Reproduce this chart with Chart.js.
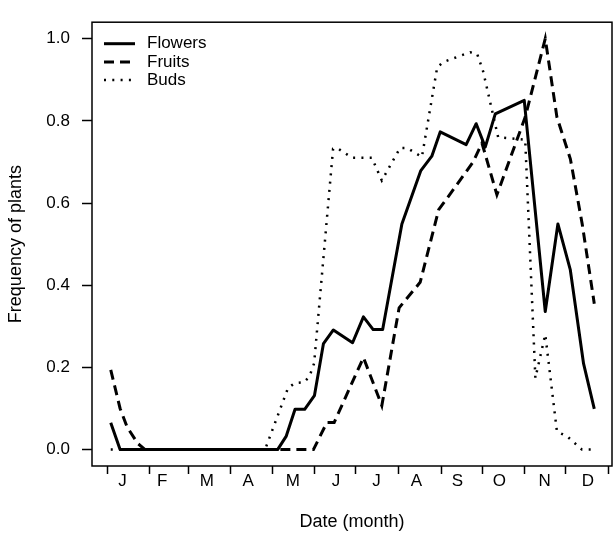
<!DOCTYPE html>
<html>
<head>
<meta charset="utf-8">
<script src="https://cdn.jsdelivr.net/npm/chart.js@4.4.1/dist/chart.umd.min.js"></script>
<style>
  html, body { margin: 0; padding: 0; background: #fff; }
  canvas { display: block; }
</style>
</head>
<body>
<canvas id="phenologyChart" width="613" height="533"></canvas>
<script>
// x = day of year (0 = 1 January), y = frequency of plants
const flowerDays = [2.5, 9.3, 124, 130.2, 136.7, 143.7, 150.8, 157.4, 164.6, 178.6, 186.5, 193.6, 200.5, 214.5, 228.3, 236.3, 242.4, 261.3, 268.6, 275.2, 282.5, 303.6, 318.9, 328.1, 337.1, 346.8, 354.6];
const flowerFreq = [0.065, 0, 0, 0.032, 0.098, 0.098, 0.131, 0.258, 0.291, 0.260, 0.323, 0.292, 0.292, 0.549, 0.679, 0.714, 0.773, 0.742, 0.793, 0.736, 0.817, 0.850, 0.336, 0.549, 0.438, 0.209, 0.099];

const fruitDays = [2.5, 9.3, 14.4, 22.1, 27.5, 150.1, 159.9, 165.2, 186.5, 199.9, 212.5, 227.8, 241.3, 247.5, 266.4, 272.8, 283.7, 304.3, 318.9, 327.4, 337.2, 345.8, 354.6];
const fruitFreq = [0.194, 0.10, 0.055, 0.015, 0, 0, 0.066, 0.066, 0.224, 0.107, 0.345, 0.407, 0.584, 0.612, 0.700, 0.746, 0.620, 0.809, 1.0, 0.809, 0.707, 0.549, 0.355];

const budDays = [2.5, 114.9, 131.6, 136.7, 143.3, 147.2, 150.6, 164.4, 167.3, 178.3, 192.6, 199.9, 213.2, 218.3, 229.1, 240.2, 244.6, 264.2, 269.3, 273.7, 284.6, 304.3, 311.7, 318.9, 327.4, 334.9, 345.6, 354.6];
const budFreq = [0, 0, 0.150, 0.162, 0.164, 0.178, 0.210, 0.732, 0.734, 0.710, 0.710, 0.655, 0.734, 0.734, 0.712, 0.930, 0.943, 0.967, 0.963, 0.920, 0.760, 0.754, 0.174, 0.280, 0.044, 0.032, 0, 0];

// month boundaries (tick marks) and label positions, in days
const monthStart = [0, 31, 59, 90, 120, 151, 181, 212, 243, 273, 304, 334, 365];
const monthLabelDay = [11, 40, 72.5, 102.5, 135, 166.5, 196, 225, 255, 285.5, 318.5, 350];
const monthLabels = ['J', 'F', 'M', 'A', 'M', 'J', 'J', 'A', 'S', 'O', 'N', 'D'];
const yTicks = [0, 0.2, 0.4, 0.6, 0.8, 1.0];

const FONT = '"Liberation Sans", Arial, Helvetica, sans-serif';

const toPoints = (xs, ys) => xs.map((x, i) => ({ x: x, y: ys[i] }));

// box round the plot and a legend in its top-left corner
const frameAndLegend = {
    id: 'frameAndLegend',
    afterDraw(chart) {
        const { ctx, chartArea: a } = chart;
        ctx.save();
        ctx.strokeStyle = '#000';
        ctx.lineWidth = 1.5;
        ctx.strokeRect(a.left, a.top, a.right - a.left, a.bottom - a.top);

        ctx.font = '17px ' + FONT;
        ctx.textBaseline = 'middle';
        ctx.fillStyle = '#000';
        chart.data.datasets.forEach((ds, i) => {
            const y = a.top + 21.5 + i * 18.2;
            ctx.beginPath();
            ctx.setLineDash(ds.borderDash || []);
            ctx.lineWidth = ds.borderWidth;
            ctx.moveTo(a.left + 12, y);
            ctx.lineTo(a.left + 43, y);
            ctx.stroke();
            ctx.setLineDash([]);
            ctx.fillText(ds.label, a.left + 55, y);
        });
        ctx.restore();
    }
};

const ctx = document.getElementById('phenologyChart').getContext('2d');

new Chart(ctx, {
    type: 'line',
    data: {
        datasets: [
            { label: 'Flowers', data: toPoints(flowerDays, flowerFreq), borderColor: '#000', borderWidth: 3, borderDash: [], borderJoinStyle: 'round' },
            { label: 'Fruits', data: toPoints(fruitDays, fruitFreq), borderColor: '#000', borderWidth: 3, borderDash: [10, 6] },
            { label: 'Buds', data: toPoints(budDays, budFreq), borderColor: '#000', borderWidth: 2.5, borderDash: [2, 6.3] }
        ]
    },
    options: {
        responsive: false,
        animation: false,
        elements: {
            point: { radius: 0, hoverRadius: 0 },
            line: { tension: 0, fill: false }
        },
        layout: { padding: { top: 8, right: 1, left: 0, bottom: 0 } },
        plugins: {
            legend: { display: false },
            tooltip: { enabled: false }
        },
        scales: {
            x: {
                type: 'linear',
                min: -11.15,
                max: 367.5,
                afterBuildTicks: s => {
                    s.ticks = monthStart.concat(monthLabelDay).sort((a, b) => a - b).map(v => ({ value: v }));
                },
                afterFit: s => { s.height = 67; },
                border: { display: false },
                grid: {
                    drawOnChartArea: false,
                    tickLength: 8,
                    tickWidth: 1.5,
                    tickColor: c => (c.tick && monthStart.includes(c.tick.value)) ? '#000' : 'rgba(0,0,0,0)'
                },
                ticks: {
                    autoSkip: false,
                    maxRotation: 0,
                    padding: -3,
                    color: '#000',
                    font: { family: FONT, size: 17 },
                    callback: v => {
                        const i = monthLabelDay.indexOf(v);
                        return i < 0 ? '' : monthLabels[i];
                    }
                },
                title: {
                    display: true,
                    text: 'Date (month)',
                    color: '#000',
                    font: { family: FONT, size: 18 },
                    padding: { top: 0, bottom: 0 }
                }
            },
            y: {
                min: -0.04,
                max: 1.04,
                afterBuildTicks: s => {
                    s.ticks = yTicks.map(v => ({ value: v }));
                },
                afterFit: s => { s.width = 92; },
                border: { display: false },
                grid: {
                    drawOnChartArea: false,
                    tickLength: 10,
                    tickWidth: 1.5,
                    tickColor: '#000'
                },
                ticks: {
                    padding: 12,
                    color: '#000',
                    font: { family: FONT, size: 17 },
                    callback: v => v.toFixed(1)
                },
                title: {
                    display: true,
                    text: 'Frequency of plants',
                    color: '#000',
                    font: { family: FONT, size: 18 },
                    padding: { top: 5, bottom: 0 }
                }
            }
        }
    },
    plugins: [frameAndLegend]
});
</script>
</body>
</html>
